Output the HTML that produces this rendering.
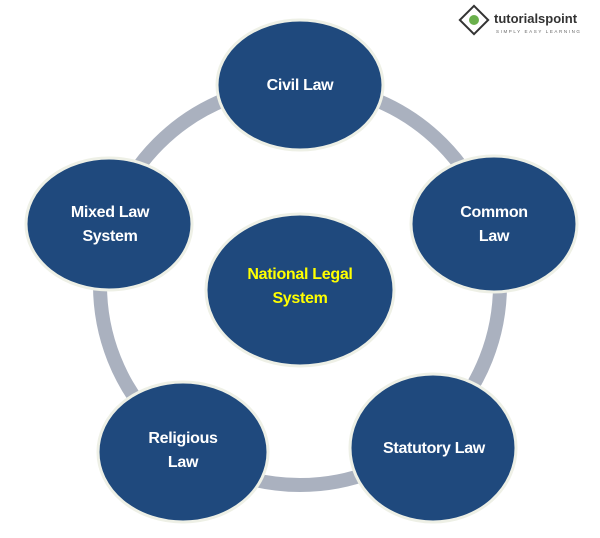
<!DOCTYPE html>
<html><head><style>
body{margin:0;background:#fff;width:600px;height:533px;overflow:hidden}
</style></head><body>
<svg width="600" height="533" xmlns="http://www.w3.org/2000/svg" style="font-family:'Liberation Sans',sans-serif">
<circle cx="300" cy="285" r="200" fill="none" stroke="#aab1bf" stroke-width="14"/>
<g fill="#1f497d" stroke="#eef0e6" stroke-width="3">
<ellipse cx="300" cy="85" rx="83" ry="65"/>
<ellipse cx="494" cy="224" rx="83" ry="68"/>
<ellipse cx="433" cy="448" rx="83" ry="74"/>
<ellipse cx="183" cy="452" rx="85" ry="70"/>
<ellipse cx="109" cy="224" rx="83" ry="66"/>
<ellipse cx="300" cy="290" rx="94" ry="76"/>
</g>
<g fill="#fff" font-weight="bold" font-size="16" text-anchor="middle" letter-spacing="-0.3">
<text x="300" y="90">Civil Law</text>
<text x="494" y="217">Common</text><text x="494" y="241">Law</text>
<text x="434" y="453">Statutory Law</text>
<text x="183" y="443">Religious</text><text x="183" y="467">Law</text>
<text x="110" y="217">Mixed Law</text><text x="110" y="241">System</text>
<text x="300" y="279" fill="#ffff00">National Legal</text><text x="300" y="303" fill="#ffff00">System</text>
</g>
<g transform="translate(474,20) rotate(45)"><rect x="-10" y="-10" width="20" height="20" fill="#fff" stroke="#333" stroke-width="2"/></g>
<circle cx="474" cy="20" r="5" fill="#6ab04c"/>
<text x="494" y="23" font-size="13" font-weight="bold" fill="#333">tutorialspoint</text>
<text x="496" y="33" font-size="4.5" fill="#666" letter-spacing="1.6">SIMPLY EASY LEARNING</text>
</svg>
</body></html>
